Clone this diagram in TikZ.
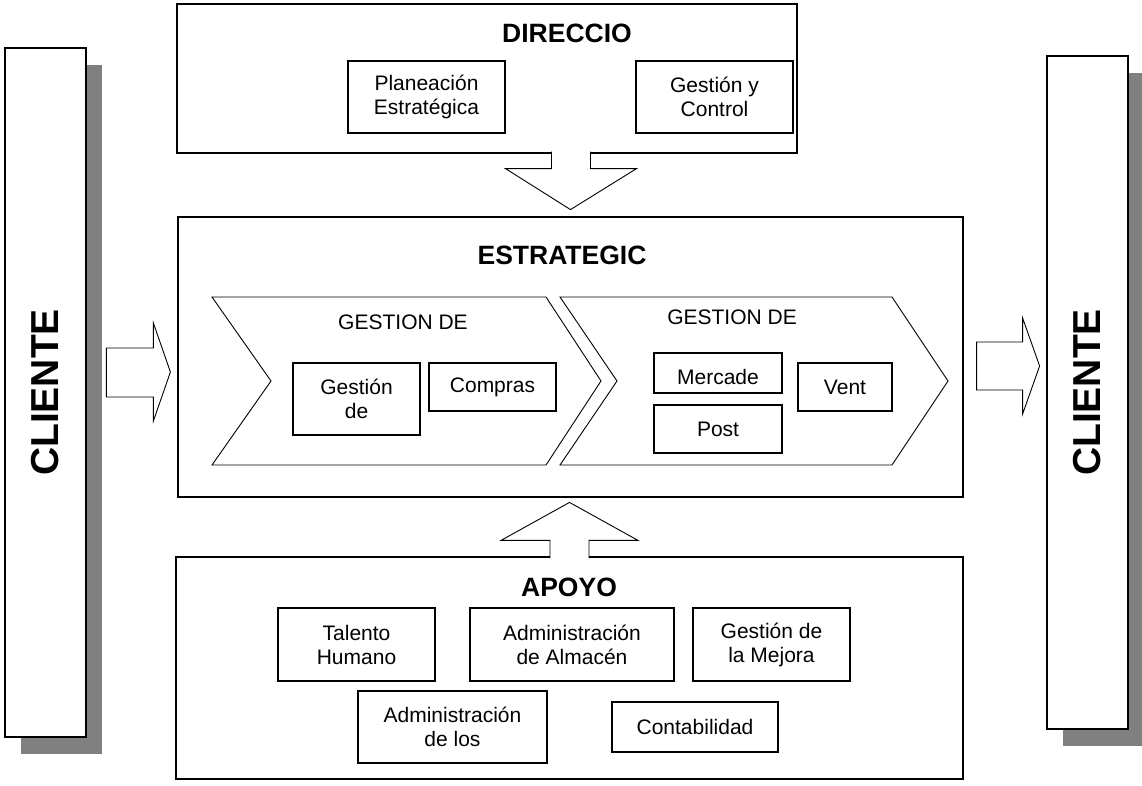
\documentclass[tikz,border=0pt]{standalone}
\usepackage{fontspec}
\setmainfont{Liberation Sans}

\tikzset{
  areabox/.style={draw,line width=1.2pt,fill=white,inner sep=0pt},
  subbox/.style={draw,line width=1.6pt,fill=white,inner sep=0pt,align=center,font=\fontsize{21}{24}\selectfont},
  clientbox/.style={draw,line width=2.4pt,fill=white,inner sep=0pt,rotate=90,minimum width=#1,minimum height=81pt,font=\fontsize{39}{40}\selectfont\bfseries},
  titletext/.style={font=\fontsize{26.5}{28}\selectfont\bfseries},
  plaintext/.style={font=\fontsize{21}{24}\selectfont},
  chevronline/.style={draw,line width=0.9pt,fill=white},
  blockarrow/.style={draw,line width=0.9pt,fill=white},
}

\begin{document}
\begin{tikzpicture}[x=1pt,y=-1pt]
\useasboundingbox (0,0) rectangle (1142,785);

% clientes with shadow
\fill[black!50] (21,65) rectangle (102,754);
\node[clientbox=689pt] (cliL) at (45.5,392.5) {CLIENTE};
\fill[black!50] (1063,73) rectangle (1142,746);
\node[clientbox=673pt] (cliR) at (1087.5,392.5) {CLIENTE};

% direccion
\node[areabox,minimum width=620pt,minimum height=149pt] (dir) at (487,78.5) {};
\node[titletext] (dirT) at (567,33) {DIRECCIO};
\node[subbox,minimum width=157pt,minimum height=72pt] (plan) at (426.5,97) {Planeación\\Estratégica};
\node[subbox,minimum width=157pt,minimum height=72pt] (gyc) at (714.5,97) {Gestión y\\Control};

% estrategico
\node[areabox,minimum width=785pt,minimum height=280pt] (est) at (570.5,357) {};
\node[titletext] (estT) at (562,255) {ESTRATEGIC};
\draw[chevronline] (212,297) -- (546,297) -- (601,381) -- (546,465) -- (212,465) -- (271,381) -- cycle;
\draw[chevronline] (560,297) -- (892,297) -- (948,381) -- (892,465) -- (560,465) -- (617,381) -- cycle;
\node[plaintext] (gest1) at (403,322) {GESTION DE};
\node[plaintext] (gest2) at (732,317) {GESTION DE};
\node[subbox,minimum width=127pt,minimum height=72pt] (gdt) at (356.5,399) {Gestión\\de};
\node[subbox,minimum width=127pt,minimum height=48pt] (comp) at (492.5,387) {Compras};
\node[subbox,minimum width=128pt,minimum height=40pt] (merc) at (718,373) {};
\begin{scope}
  \clip (merc.south west) rectangle (merc.north east);
  \node[plaintext] (mercT) at ([yshift=-4pt]merc.center) {Mercade};
\end{scope}
\node[subbox,minimum width=128pt,minimum height=48pt] (post) at (718,429) {Post};
\node[subbox,minimum width=94pt,minimum height=48pt] (vent) at (845,387) {Vent};

% apoyo
\node[areabox,minimum width=787pt,minimum height=222pt] (apoyo) at (569.5,668) {};
\node[titletext] (apoyoT) at (569,587) {APOYO};
\node[subbox,minimum width=157pt,minimum height=73pt] (tal) at (356.5,644.5) {Talento\\Humano};
\node[subbox,minimum width=204pt,minimum height=73pt] (alm) at (572,644.5) {Administración\\de Almacén};
\node[subbox,minimum width=157pt,minimum height=73pt] (mej) at (771.5,644.5) {Gestión de\\la Mejora};
\node[subbox,minimum width=189pt,minimum height=72pt] (adm) at (452.5,727) {Administración\\de los};
\node[subbox,minimum width=166pt,minimum height=50pt] (cont) at (695,727) {Contabilidad};

% block arrows
\draw[blockarrow,shift={(dir.south -| est.north)}] (-19,-2) -- (-19,15) -- (-65,15) -- (0,56) -- (66,15) -- (20,15) -- (20,-2);
\draw[blockarrow,shift={(apoyo.north)}] (-19.5,2) -- (-19.5,-16) -- (-68.5,-16) -- (0,-54) -- (68.5,-16) -- (19.5,-16) -- (19.5,2);
\draw[blockarrow,shift={(est.west)}] (-71,-9) -- (-24,-9) -- (-24,-34) -- (-7,15) -- (-24,64) -- (-24,40) -- (-71,40) -- cycle;
\draw[blockarrow,shift={(est.east)}] (13,-15) -- (59,-15) -- (59,-39) -- (76,9) -- (59,57) -- (59,33) -- (13,33) -- cycle;
\end{tikzpicture}
\end{document}
